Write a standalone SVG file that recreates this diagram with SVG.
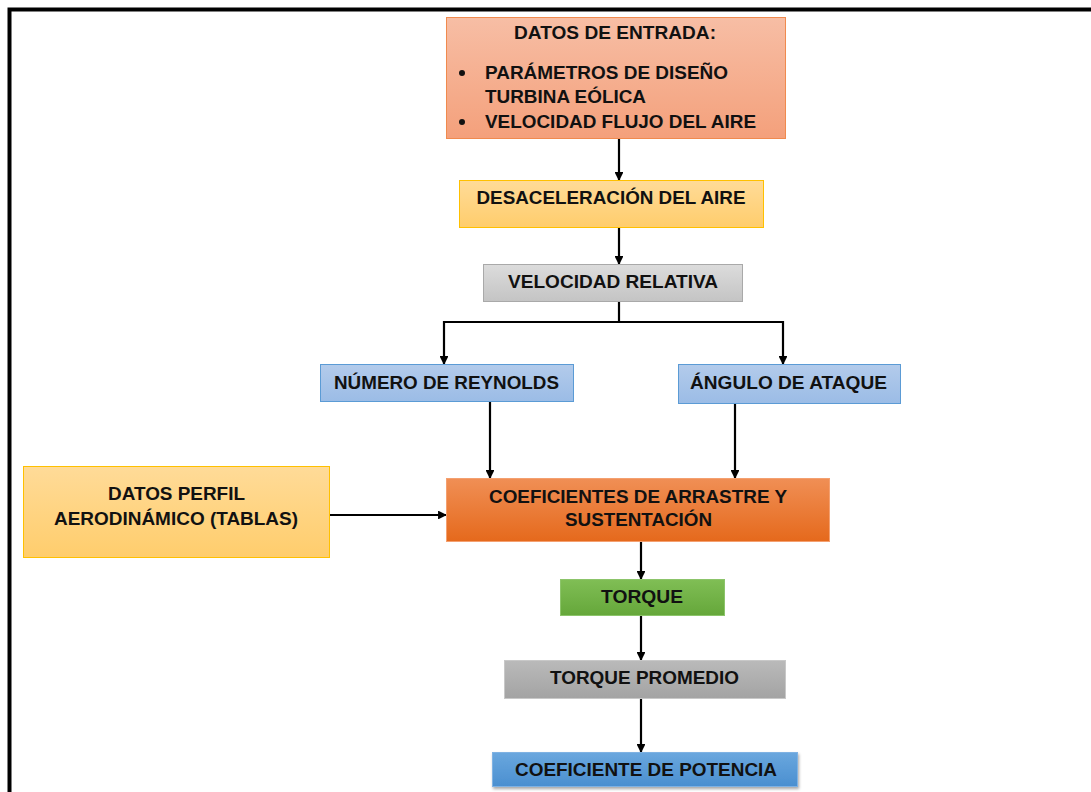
<svg xmlns="http://www.w3.org/2000/svg" width="1091" height="792" viewBox="0 0 1091 792">
<style>
.t{font-family:"Liberation Sans",Arial,sans-serif;font-weight:bold;font-size:19px;fill:#111;text-anchor:middle}
.tl{font-family:"Liberation Sans",Arial,sans-serif;font-weight:bold;font-size:19px;fill:#111}
.c{fill:none;stroke:#000;stroke-width:2.2}
.ca{fill:none;stroke:#000;stroke-width:2.2;marker-end:url(#ah)}
</style>
<defs>
<marker id="ah" viewBox="0 0 10 10" refX="9" refY="5" markerWidth="4" markerHeight="4" orient="auto" markerUnits="strokeWidth">
<path d="M0,0 L10,5 L0,10 z" fill="#000"/>
</marker>
<linearGradient id="gSalmon" x1="0" y1="0" x2="0" y2="1"><stop offset="0" stop-color="#f7bea5"/><stop offset="1" stop-color="#f4a07b"/></linearGradient>
<linearGradient id="gYellow" x1="0" y1="0" x2="0" y2="1"><stop offset="0" stop-color="#ffdb98"/><stop offset="1" stop-color="#ffcd6c"/></linearGradient>
<linearGradient id="gGray" x1="0" y1="0" x2="0" y2="1"><stop offset="0" stop-color="#dcdcdc"/><stop offset="1" stop-color="#c4c4c4"/></linearGradient>
<linearGradient id="gGray2" x1="0" y1="0" x2="0" y2="1"><stop offset="0" stop-color="#bababa"/><stop offset="1" stop-color="#a3a3a3"/></linearGradient>
<linearGradient id="gBlueL" x1="0" y1="0" x2="0" y2="1"><stop offset="0" stop-color="#b3cbeb"/><stop offset="1" stop-color="#9bbce6"/></linearGradient>
<linearGradient id="gOrange" x1="0" y1="0" x2="0" y2="1"><stop offset="0" stop-color="#f08f55"/><stop offset="1" stop-color="#e5691c"/></linearGradient>
<linearGradient id="gGreen" x1="0" y1="0" x2="0" y2="1"><stop offset="0" stop-color="#80be55"/><stop offset="1" stop-color="#65a73a"/></linearGradient>
<linearGradient id="gBlue" x1="0" y1="0" x2="0" y2="1"><stop offset="0" stop-color="#6aa7de"/><stop offset="1" stop-color="#4a8fd0"/></linearGradient>
<filter id="sh" x="-5%" y="-20%" width="110%" height="150%"><feDropShadow dx="1" dy="2" stdDeviation="1.5" flood-color="#000" flood-opacity="0.35"/></filter>
</defs>
<rect x="0" y="0" width="1091" height="792" fill="#fff"/>
<path d="M9.5,792 L9.5,9.5 L1091,9.5" fill="none" stroke="#000" stroke-width="4"/>

<g id="connectors">
<path class="ca" d="M619,139 L619,180"/>
<path class="ca" d="M619,228 L619,264"/>
<path class="c" d="M619,302 L619,322"/>
<path class="ca" d="M444,322 L783,322 M444,321 L444,364"/>
<path class="ca" d="M783,321 L783,364"/>
<path class="ca" d="M490,402 L490,478"/>
<path class="ca" d="M735,404 L735,478"/>
<path class="ca" d="M330,515 L446,515"/>
<path class="ca" d="M641,542 L641,579"/>
<path class="ca" d="M641,616 L641,660"/>
<path class="ca" d="M641,699 L641,752"/>
</g>

<g id="datos-entrada">
<rect x="446.5" y="17.5" width="339" height="121" fill="url(#gSalmon)" stroke="#f08a4e" stroke-width="1"/>
<text class="t" x="615" y="39" textLength="202" lengthAdjust="spacingAndGlyphs">DATOS DE ENTRADA:</text>
<circle cx="462" cy="73" r="3" fill="#111"/>
<circle cx="462" cy="122" r="3" fill="#111"/>
<text class="tl" x="485" y="79" textLength="243" lengthAdjust="spacingAndGlyphs">PARÁMETROS DE DISEÑO</text>
<text class="tl" x="485" y="103" textLength="161" lengthAdjust="spacingAndGlyphs">TURBINA EÓLICA</text>
<text class="tl" x="485" y="128" textLength="271" lengthAdjust="spacingAndGlyphs">VELOCIDAD FLUJO DEL AIRE</text>
</g>

<g id="desaceleracion">
<rect x="459.5" y="180.5" width="304" height="47" fill="url(#gYellow)" stroke="#ffc000" stroke-width="1"/>
<text class="t" x="611" y="204" textLength="269" lengthAdjust="spacingAndGlyphs">DESACELERACIÓN DEL AIRE</text>
</g>

<g id="velocidad-relativa">
<rect x="483.5" y="264.5" width="259" height="37" fill="url(#gGray)" stroke="#a9a9a9" stroke-width="1"/>
<text class="t" x="613" y="288" textLength="210" lengthAdjust="spacingAndGlyphs">VELOCIDAD RELATIVA</text>
</g>

<g id="reynolds">
<rect x="320.5" y="364.5" width="253" height="37" fill="url(#gBlueL)" stroke="#5b9bd5" stroke-width="1"/>
<text class="t" x="446.5" y="389" textLength="225" lengthAdjust="spacingAndGlyphs">NÚMERO DE REYNOLDS</text>
</g>

<g id="angulo">
<rect x="678.5" y="364.5" width="222" height="39" fill="url(#gBlueL)" stroke="#5b9bd5" stroke-width="1"/>
<text class="t" x="788.5" y="389" textLength="197" lengthAdjust="spacingAndGlyphs">ÁNGULO DE ATAQUE</text>
</g>

<g id="datos-perfil">
<rect x="23.5" y="466.5" width="306" height="91" fill="url(#gYellow)" stroke="#ffc000" stroke-width="1"/>
<text class="t" x="176.5" y="500" textLength="137" lengthAdjust="spacingAndGlyphs">DATOS PERFIL</text>
<text class="t" x="176" y="525" textLength="244" lengthAdjust="spacingAndGlyphs">AERODINÁMICO (TABLAS)</text>
</g>

<g id="coeficientes">
<rect x="446.5" y="478.5" width="383" height="63" fill="url(#gOrange)" stroke="#f4a070" stroke-width="1"/>
<text class="t" x="638" y="503" textLength="298" lengthAdjust="spacingAndGlyphs">COEFICIENTES DE ARRASTRE Y</text>
<text class="t" x="638.5" y="526" textLength="147" lengthAdjust="spacingAndGlyphs">SUSTENTACIÓN</text>
</g>

<g id="torque">
<rect x="560.5" y="579.5" width="164" height="36" fill="url(#gGreen)" stroke="#8cc46a" stroke-width="1"/>
<text class="t" x="642" y="603" textLength="82" lengthAdjust="spacingAndGlyphs">TORQUE</text>
</g>

<g id="torque-promedio">
<rect x="504.5" y="660.5" width="281" height="38" fill="url(#gGray2)" stroke="#c8c8c8" stroke-width="1"/>
<text class="t" x="644.5" y="684" textLength="189" lengthAdjust="spacingAndGlyphs">TORQUE PROMEDIO</text>
</g>

<g id="coef-potencia">
<rect x="492.5" y="752.5" width="305" height="34" fill="url(#gBlue)" stroke="#7fb2e3" stroke-width="1" filter="url(#sh)"/>
<text class="t" x="646" y="776" textLength="262" lengthAdjust="spacingAndGlyphs">COEFICIENTE DE POTENCIA</text>
</g>
</svg>
